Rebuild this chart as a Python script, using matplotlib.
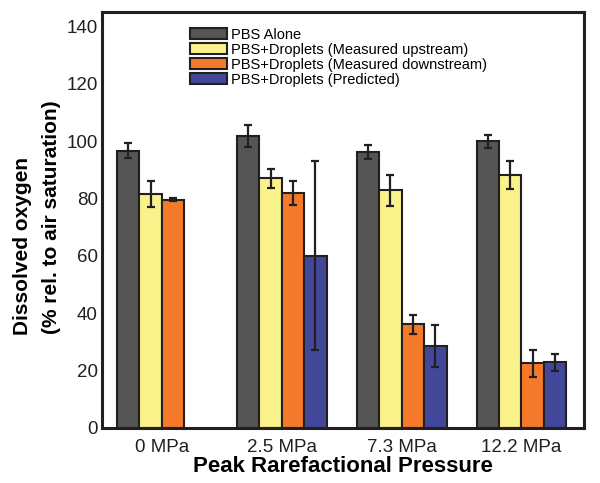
import numpy as np
import matplotlib
matplotlib.use("Agg")
import matplotlib.pyplot as plt

plt.rcParams['font.family'] = ['Liberation Sans', 'DejaVu Sans']

# Data
pressures = ["0 MPa", "2.5 MPa", "7.3 MPa", "12.2 MPa"]
series_names = [
    "PBS Alone",
    "PBS+Droplets (Measured upstream)",
    "PBS+Droplets (Measured downstream)",
    "PBS+Droplets (Predicted)",
]
pbs_alone = [96.7, 101.7, 96.2, 100.0]
pbs_alone_err = [2.6, 3.8, 2.5, 2.3]
upstream = [81.7, 87.0, 82.8, 88.2]
upstream_err = [4.5, 3.3, 5.4, 4.8]
downstream = [79.6, 82.0, 36.1, 22.6]
downstream_err = [0.5, 4.1, 3.3, 4.7]
predicted = [np.nan, 60.1, 28.7, 22.9]
predicted_err = [np.nan, 33.0, 7.3, 3.0]

colors = ["#555555", "#FAF28A", "#F47A2A", "#43479A"]
edge = "#231F20"

fig = plt.figure(figsize=(6.0, 4.83), dpi=100)
ax = fig.add_axes([0.17, 0.114, 0.803, 0.861])

x = np.arange(len(pressures))
width = 0.1875
values = [pbs_alone, upstream, downstream, predicted]
errors = [pbs_alone_err, upstream_err, downstream_err, predicted_err]

for i, (vals, errs) in enumerate(zip(values, errors)):
    pos = x + (i - 1.5) * width
    ax.bar(pos, vals, width, color=colors[i], edgecolor=edge, linewidth=1.5,
           label=series_names[i], zorder=2)
    ax.errorbar(pos, vals, yerr=errs, fmt="none", ecolor=edge, elinewidth=1.6,
                capsize=3, capthick=1.6, zorder=3)

ax.set_xlim(-0.5, 3.52)
ax.set_ylim(0, 145)
ax.set_yticks(np.arange(0, 141, 20))
ax.set_xticks(x)
ax.set_xticklabels(pressures)
ax.tick_params(axis="both", length=0, labelsize=13.5, colors="#231F20")
ax.tick_params(axis="x", pad=8)
ax.tick_params(axis="y", pad=3)

for spine in ax.spines.values():
    spine.set_linewidth(2.2)
    spine.set_color("#231F20")

ax.set_xlabel("Peak Rarefactional Pressure", fontsize=16, fontweight="bold",
              labelpad=0)

# two-line y label, placed line by line as in the original
fig.text(0.038, 0.491, "Dissolved oxygen", rotation=90, fontsize=15,
         fontweight="bold", ha="center", va="center")
fig.text(0.086, 0.551, "(% rel. to air saturation)", rotation=90, fontsize=15,
         fontweight="bold", ha="center", va="center")

leg = ax.legend(loc="upper left", bbox_to_anchor=(0.183, 0.962), frameon=False,
                fontsize=10.5, handlelength=2.5, handleheight=0.75,
                handletextpad=0.3, labelspacing=0.06, borderaxespad=0,
                borderpad=0)

fig.savefig("out.png", dpi=100)
